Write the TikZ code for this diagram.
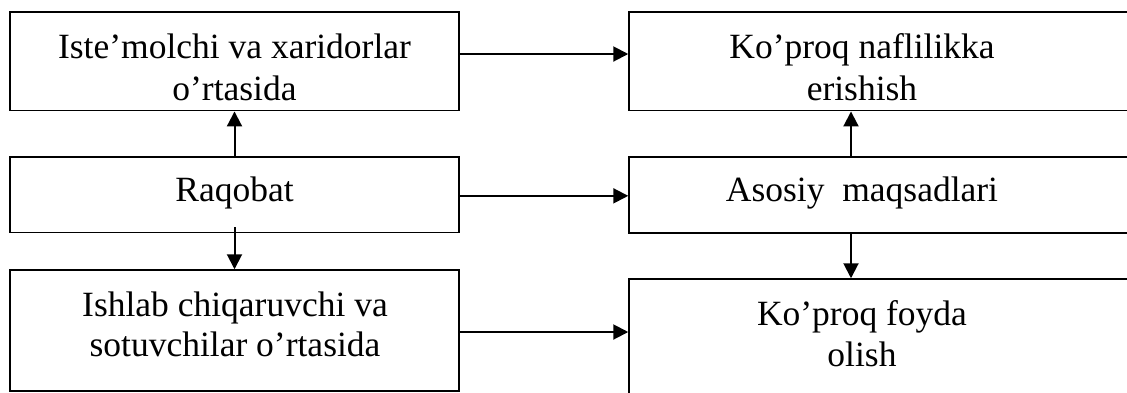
\documentclass[tikz,border=0pt]{standalone}
\usepackage{fontspec}
\setmainfont{Liberation Serif}
\usetikzlibrary{arrows.meta}
\begin{document}
\begin{tikzpicture}[x=1pt,y=-1pt,
 box/.style={draw, line width=1.5pt, rectangle, inner sep=0pt},
 txt/.style={anchor=base, inner sep=0pt, font=\fontsize{35.5}{42}\selectfont},
 arr/.style={line width=2pt, -{Triangle[length=15pt,width=15pt]}}]
\useasboundingbox (0,0) rectangle (1127,392);
\clip (0,0) rectangle (1127,392);
% boxes
\node[box, minimum width=449pt, minimum height=98.7pt] (A) at (234.5,61.35) {};
\node[box, minimum width=449pt, minimum height=75.7pt] (C) at (234.5,194.85) {};
\node[box, minimum width=449pt, minimum height=121pt] (E) at (234.5,330.5) {};
\node[box, minimum width=511pt, minimum height=98.7pt] (B) at (884.5,61.35) {};
\node[box, minimum width=511pt, minimum height=76pt] (D) at (884.5,195) {};
\node[box, minimum width=511pt, minimum height=126pt] (F) at (884.5,342) {};
% texts
\node[txt] (A1) at (234.5,58) {Iste’molchi va xaridorlar};
\node[txt] (A2) at (234.5,100) {o’rtasida};
\node[txt] (B1) at (862,58) {Ko’proq naflilikka};
\node[txt] (B2) at (862,100) {erishish};
\node[txt] (C1) at (234.5,201.5) {Raqobat};
\node[txt] (D1) at (862,201.5) {Asosiy\ \ maqsadlari};
\node[txt] (E1) at (235,316.7) {Ishlab chiqaruvchi va};
\node[txt] (E2) at (235,356.7) {sotuvchilar o’rtasida};
\node[txt] (F1) at (862,325) {Ko’proq foyda};
\node[txt] (F2) at (862,366.7) {olish};
% connectors
\draw[arr] ([yshift=7.35pt]A.east) -- ([yshift=7.35pt]A.east -| B.west);
\draw[arr] ([yshift=-1pt]C.east) -- ([yshift=-1pt]C.east -| D.west);
\draw[arr] ([yshift=-1.5pt]E.east) -- ([yshift=-1.5pt]E.east -| F.west);
\draw[arr] (C.north) -- (A.south);
\draw[arr] ([yshift=6pt]C.south) -- (E.north);
\draw[arr] ([xshift=-33.5pt]D.north) -- ([xshift=-33.5pt]B.south);
\draw[arr] ([xshift=-33.5pt]D.south) -- ([xshift=-33.5pt]F.north);
\end{tikzpicture}
\end{document}
